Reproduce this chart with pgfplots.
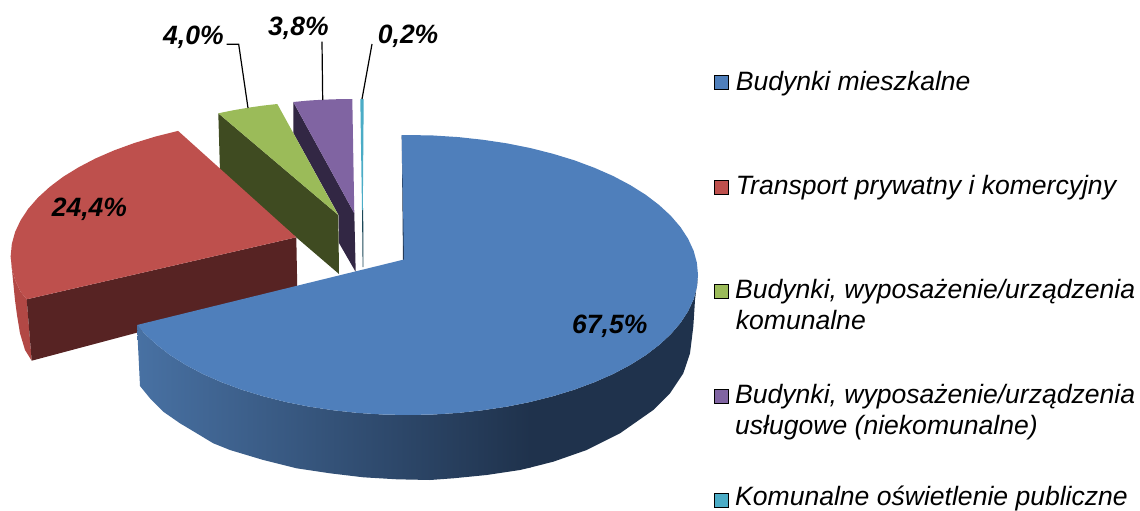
\documentclass[border=0pt]{standalone}
\usepackage{pgfplots}
\pgfplotsset{compat=1.18}
\usepackage{fontspec}
\setmainfont{Liberation Sans}
\definecolor{bluetop}{RGB}{79,127,187}
\definecolor{blueA}{RGB}{72,113,163}
\definecolor{blueB}{RGB}{31,50,76}
\definecolor{redtop}{RGB}{190,80,77}
\definecolor{reddk}{RGB}{87,35,35}
\definecolor{redrim}{RGB}{178,72,69}
\definecolor{greentop}{RGB}{155,187,89}
\definecolor{greendk}{RGB}{63,75,33}
\definecolor{purptop}{RGB}{128,100,162}
\definecolor{purpdk}{RGB}{50,39,68}
\definecolor{tealtop}{RGB}{75,172,198}
\definecolor{tealdk}{RGB}{28,72,88}
\newcommand{\lab}{\fontsize{26.55}{30}\selectfont\itshape}
\newcommand{\pct}{\fontsize{26.5}{30}\selectfont\bfseries\itshape}
\begin{document}
\begin{tikzpicture}
\path[use as bounding box] (0,0) rectangle (1140pt,511pt);
\clip (0,0) rectangle (1140pt,511pt);
\begin{axis}[
  at={(0,0)},anchor=south west,
  scale only axis,width=1140pt,height=511pt,
  xmin=0,xmax=1140,ymin=0,ymax=511,y dir=reverse,
  hide axis,clip=false,
]
% teal slice
\addplot[fill=tealdk,draw=none] coordinates {(362,208)(363.2,208)(363.4,267)(362.6,267)} --cycle;
\addplot[fill=tealtop,draw=none] coordinates {(360.3,99)(363.7,99)(362.8,210)(362,210)} --cycle;
% purple slice
\addplot[fill=purpdk,draw=none] coordinates {(293.3,102)(354.3,213.3)(355.7,272)(339,243)(338.5,215)(293.3,133)} --cycle;
\addplot[fill=purptop,draw=none] coordinates {(293.3,102)(308,100.6)(322.7,99.7)(337.5,99.2)(352.3,99)(354.3,213.3)} --cycle;
% green slice
\addplot[fill=greendk,draw=none] coordinates {(218.3,113.3)(338.3,215)(339,274)(220,172)} --cycle;
\addplot[fill=greentop,draw=none] coordinates {(218.3,113.3)(233,110.3)(248.3,107.7)(263,105.6)(277.3,104)(338.3,215)} --cycle;
% red slice
\addplot[fill=redrim,draw=none] coordinates {(10.7,256)(11.8,268)(15.1,280)(20.6,291.7)(26.7,299.3)(31.7,360.7)(25,350)(20,333.3)(17,315)(15,300)(12.3,273)} --cycle;
\addplot[fill=reddk,draw=none] coordinates {(26.7,299.3)(296.3,237.3)(297.3,290)(31.7,360.7)} --cycle;
\addplot[fill=redtop,draw=none] coordinates {(178.1,130.9)(296.3,237.3)(26.7,299.3)(20.6,291.7)(15.1,280)(11.8,268)(10.7,256)(11.8,244)(15.1,232)(20.6,220.3)(28.2,208.8)(37.9,197.7)(49.6,187)(63.1,176.8)(78.6,167.3)(95.6,158.4)(114.3,150.3)(134.4,143)(155.7,136.5)} --cycle;
% blue slice
\addplot[fill=blueB,draw=none] coordinates {(401.7,135)(403,260)(405,260)} --cycle;
\addplot[left color=blueA,right color=blueB,draw=none] coordinates {
 (530.6,401.9)(507.2,406.6)(483.1,410.2)(458.4,412.9)(433.3,414.5)(408,415)(382.7,414.5)(357.6,412.9)(332.9,410.2)(308.8,406.6)(285.4,401.9)(263,396.2)(241.7,389.7)(221.6,382.2)(202.9,374)(185.9,365)(170.4,355.3)(157,345)(145.2,334.2)(137,325)
 (140,386)(150,398.3)(163.3,411.7)(180,423.3)(196.7,433.3)(213.3,443.3)(230,450)(263.3,460)(296.7,468.3)(330,473.3)(363.3,477.3)(396.7,479.3)(430,480)(453.3,478.3)(486.7,475)(520,470)(530.6,467.5)} --cycle;
\addplot[fill=blueB,draw=none] coordinates {
 (698,275)(696.9,287.2)(693.6,299.3)(688.1,311.2)(680.5,322.9)(670.8,334.2)(659.1,345)(645.6,355.3)(630.1,365)(613.1,374)(594.4,382.2)(574.3,389.7)(553,396.2)(530,402)
 (530,467.6)(553.3,461.7)(586.7,450)(620,433.3)(653.3,410)(670,393.3)(683.3,373.3)(690,353.3)(693.3,326.7)(695,300)} --cycle;
\addplot[fill=bluetop,draw=none] coordinates {
 (401.7,135)(408,135)(433.3,135.5)(458.4,137.1)(483.1,139.8)(507.2,143.4)(530.6,148.1)(553,153.8)(574.3,160.3)(594.4,167.8)(613.1,176)(630.1,185)(645.6,194.7)(659.1,205)(670.8,215.8)(680.5,227.1)(688.1,238.8)(693.6,250.7)(696.9,262.8)(698,275)
 (696.9,287.2)(693.6,299.3)(688.1,311.2)(680.5,322.9)(670.8,334.2)(659.1,345)(645.6,355.3)(630.1,365)(613.1,374)(594.4,382.2)(574.3,389.7)(553,396.2)(530.6,401.9)(507.2,406.6)(483.1,410.2)(458.4,412.9)(433.3,414.5)(408,415)(382.7,414.5)(357.6,412.9)(332.9,410.2)(308.8,406.6)(285.4,401.9)(263,396.2)(241.7,389.7)(221.6,382.2)(202.9,374)(185.9,365)(170.4,355.3)(157,345)(145.2,334.2)(137,325)
 (404,259.5)} --cycle;
% leader lines
\addplot[black,line width=1.2pt] coordinates {(226.7,44.3)(238.7,44.3)(248,108)};
\addplot[black,line width=1.2pt] coordinates {(322,41.7)(322.7,100)};
\addplot[black,line width=1.2pt] coordinates {(372,44)(362,99)};
% legend swatches
\addplot[only marks,mark=square*,mark size=7pt,mark options={fill=bluetop,draw=none}] coordinates {(721,82)};
\addplot[only marks,mark=square*,mark size=7pt,mark options={fill=redtop,draw=none}] coordinates {(721,187)};
\addplot[only marks,mark=square*,mark size=7pt,mark options={fill=greentop,draw=none}] coordinates {(721,291)};
\addplot[only marks,mark=square*,mark size=7pt,mark options={fill=purptop,draw=none}] coordinates {(721,396)};
\addplot[only marks,mark=square*,mark size=7pt,mark options={fill=tealtop,draw=none}] coordinates {(721,500)};
% value labels
\node[anchor=base west,inner sep=0pt] at (axis cs:163,45) {\pct 4,0\%};
\node[anchor=base west,inner sep=0pt] at (axis cs:268,36) {\pct 3,8\%};
\node[anchor=base west,inner sep=0pt] at (axis cs:377.7,43.3) {\pct 0,2\%};
\node[anchor=base west,inner sep=0pt] at (axis cs:51.7,216.7) {\pct 24,4\%};
\node[anchor=base west,inner sep=0pt] at (axis cs:572,333) {\pct 67,5\%};
% legend text
\node[anchor=base west,inner sep=0pt] at (axis cs:735.7,90.7) {\lab Budynki mieszkalne};
\node[anchor=base west,inner sep=0pt] at (axis cs:735.7,194.3) {\lab Transport prywatny i komercyjny};
\node[anchor=base west,inner sep=0pt] at (axis cs:735,298.7) {\lab Budynki, wyposażenie/urządzenia};
\node[anchor=base west,inner sep=0pt] at (axis cs:735.7,329.3) {\lab komunalne};
\node[anchor=base west,inner sep=0pt] at (axis cs:735,403.3) {\lab Budynki, wyposażenie/urządzenia};
\node[anchor=base west,inner sep=0pt] at (axis cs:735,434) {\lab usługowe (niekomunalne)};
\node[anchor=base west,inner sep=0pt] at (axis cs:735,505) {\lab Komunalne oświetlenie publiczne};
\end{axis}
\end{tikzpicture}
\end{document}
